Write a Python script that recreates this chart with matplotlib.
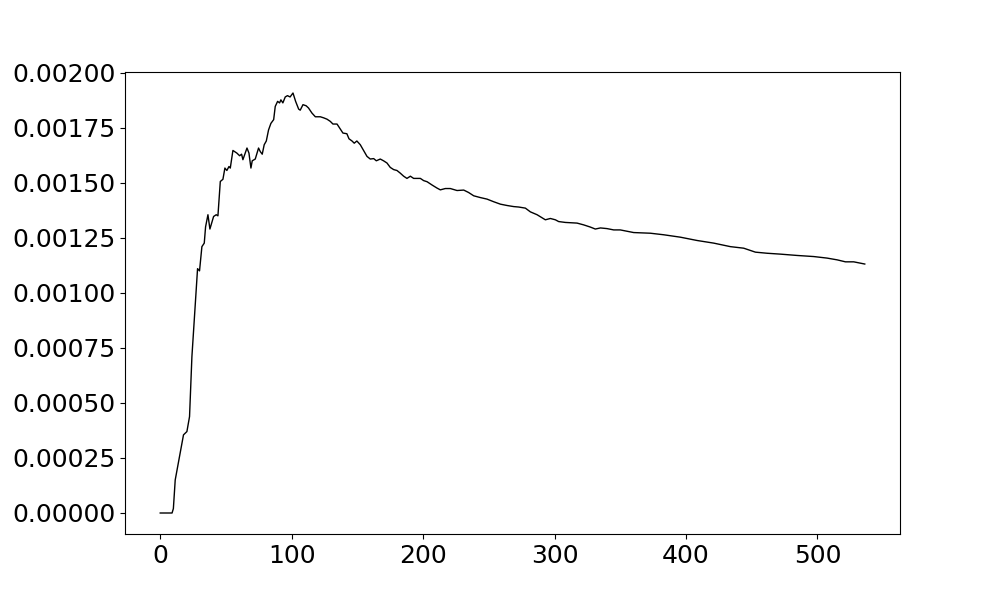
import matplotlib
matplotlib.use("Agg")
import matplotlib.pyplot as plt

# values
steps = [0, 9, 10, 11.4, 17.7, 20.3, 22.3, 24.1, 26.6, 28.4, 29.9, 31.7, 33.5, 34.5,
         36.3, 37.8, 40.6, 42.6, 43.9, 45.7, 47.7, 49.2, 50.7, 52.3, 53.3, 55.3,
         58.3, 60.4, 61.9, 62.9, 64.4, 66, 67.5, 69, 70, 72.3, 74.8, 76.1, 77.6,
         79.1, 80.7, 82.4, 84.2, 86.3, 87.5, 89.3, 90.8, 91.8, 93.3, 95.1, 96.8,
         98.8, 101, 103, 105.3, 106.5, 108.6, 111, 112.8, 115.4, 118, 121.8, 124.4,
         126.9, 129.4, 131.4, 134.5, 136.5, 139, 142, 143.6, 145.9, 147.6, 149.6,
         152.2, 154.7, 157.3, 159.8, 162.4, 164.4, 167.4, 169.9, 172.5, 175, 177.6,
         180.1, 182.6, 185.2, 187.7, 190.3, 192.8, 195.3, 197.9, 200.4, 203, 206.8,
         210.6, 213.1, 216.9, 220.7, 225.8, 230.9, 234.6, 238.5, 243.5, 248.6,
         253.7, 258.8, 263.8, 268.9, 272.7, 277.8, 281.6, 286.7, 293, 296.8, 300.6,
         303.1, 308.2, 313.3, 317.1, 322.1, 327.2, 331, 334.9, 339.9, 345, 350,
         360.2, 372.9, 383, 395.7, 408.4, 421.1, 433.8, 443.9, 452.8, 461.7, 471.8,
         484.5, 497.2, 507.3, 515, 521.3, 527.6, 536]
values = [0, 0, 0.00002, 0.00015, 0.000355, 0.00037, 0.000438, 0.00071, 0.00094,
          0.00111, 0.0011, 0.00121, 0.001226, 0.0013, 0.001355, 0.00129, 0.001347,
          0.001355, 0.00135, 0.001506, 0.001516, 0.001567, 0.001556, 0.001574,
          0.001567, 0.001647, 0.001635, 0.001623, 0.00163, 0.001605, 0.00163,
          0.001658, 0.001635, 0.001567, 0.0016, 0.001608, 0.001658, 0.001642,
          0.00163, 0.001673, 0.00169, 0.00174, 0.00177, 0.001787, 0.001847,
          0.00187, 0.001863, 0.001877, 0.001863, 0.00189, 0.001896, 0.00189,
          0.001908, 0.00187, 0.001835, 0.00183, 0.001855, 0.00185, 0.00184,
          0.001817, 0.0018, 0.0018, 0.001795, 0.001789, 0.001779, 0.001767,
          0.001767, 0.001749, 0.001726, 0.001723, 0.0017, 0.00169, 0.00168,
          0.00169, 0.001673, 0.001647, 0.00162, 0.001608, 0.00161, 0.0016,
          0.001608, 0.0016, 0.00159, 0.00157, 0.00156, 0.001556, 0.001544,
          0.00153, 0.00152, 0.00153, 0.00152, 0.00152, 0.00152, 0.00151, 0.001505,
          0.00149, 0.001476, 0.001468, 0.001474, 0.001474, 0.001465, 0.001467,
          0.001456, 0.001441, 0.001433, 0.001426, 0.001414, 0.001403, 0.001397,
          0.001392, 0.00139, 0.001385, 0.001368, 0.001355, 0.001332, 0.001338,
          0.001332, 0.001324, 0.00132, 0.001318, 0.001317, 0.001309, 0.001299,
          0.00129, 0.001295, 0.001292, 0.001286, 0.001286, 0.001274, 0.001271,
          0.001264, 0.001253, 0.001238, 0.001226, 0.00121, 0.001203, 0.001185,
          0.00118, 0.001176, 0.00117, 0.001165, 0.001158, 0.00115, 0.001141,
          0.001141, 0.001131]

plt.rcParams["font.size"] = 18
fig, ax = plt.subplots(figsize=(10, 6), dpi=100)
ax.plot(steps, values, color="black", linewidth=1)
ax.set_yticks([0, 0.00025, 0.0005, 0.00075, 0.001, 0.00125, 0.0015, 0.00175, 0.002])
ax.set_yticklabels(["0.00000", "0.00025", "0.00050", "0.00075", "0.00100",
                    "0.00125", "0.00150", "0.00175", "0.00200"])
fig.savefig("out.png")
